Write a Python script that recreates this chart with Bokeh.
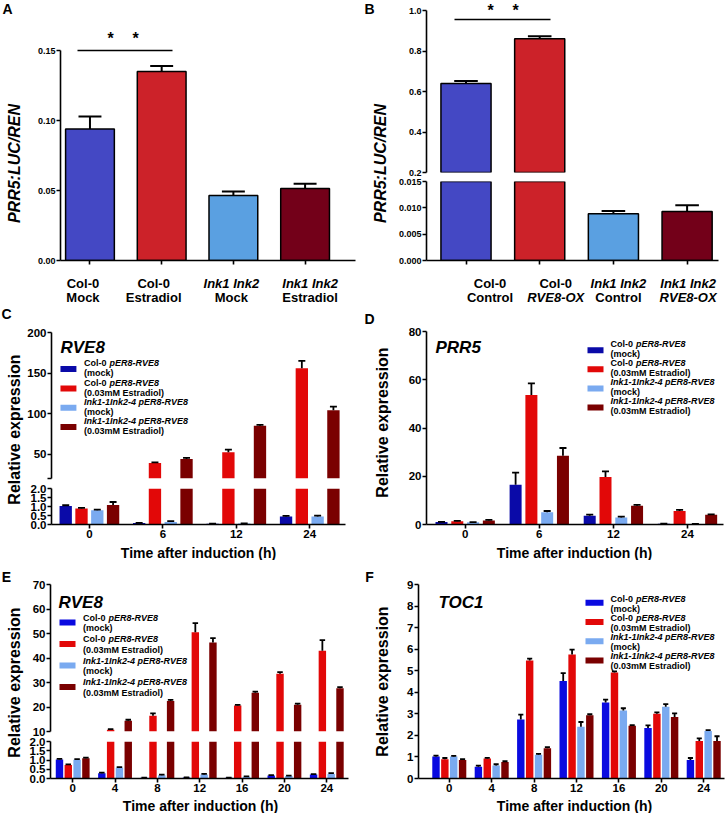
import numpy as np
from bokeh.plotting import figure
from bokeh.models import Range1d, Label, BoxAnnotation, FixedTicker, NumeralTickFormatter, ColumnDataSource
from bokeh.layouts import row, column
from bokeh.embed import file_html
from bokeh.resources import INLINE

# ---------------- data ----------------
A_line1 = ["Col-0", "Col-0", "Ink1 Ink2", "Ink1 Ink2"]
A_line1_italic = [False, False, True, True]
A_line2 = ["Mock", "Estradiol", "Mock", "Estradiol"]
A_line2_italic = [False, False, False, False]
A_mean = [0.094, 0.135, 0.0465, 0.0515]
A_err = [0.0088, 0.004, 0.0027, 0.0033]

B_line1 = ["Col-0", "Col-0", "Ink1 Ink2", "Ink1 Ink2"]
B_line1_italic = [False, False, True, True]
B_line2 = ["Control", "RVE8-OX", "Control", "RVE8-OX"]
B_line2_italic = [False, True, False, True]
B_mean = [0.639, 0.860, 0.0089, 0.0093]
B_err = [0.013, 0.013, 0.0005, 0.0012]

C_times = ["0", "6", "12", "24"]
C_col_mock = [1.03, 0.08, 0.04, 0.45]
C_col_mock_err = [0.04, 0.01, 0.01, 0.03]
C_col_est = [0.89, 39.0, 52.5, 156.0]
C_col_est_err = [0.03, 1.0, 3.0, 9.0]
C_ink_mock = [0.79, 0.14, 0.05, 0.44]
C_ink_mock_err = [0.04, 0.05, 0.01, 0.05]
C_ink_est = [1.08, 44.0, 85.0, 104.0]
C_ink_est_err = [0.17, 1.5, 1.2, 4.5]

D_times = ["0", "6", "12", "24"]
D_col_mock = [1.0, 16.5, 3.6, 0.3]
D_col_mock_err = [0.1, 5.0, 0.5, 0.05]
D_col_est = [1.3, 53.7, 19.7, 5.6]
D_col_est_err = [0.2, 4.8, 2.3, 0.5]
D_ink_mock = [0.9, 5.1, 2.9, 0.2]
D_ink_mock_err = [0.1, 0.5, 0.4, 0.05]
D_ink_est = [1.7, 28.5, 7.8, 4.0]
D_ink_est_err = [0.2, 3.2, 0.3, 0.2]

E_times = ["0", "4", "8", "12", "16", "20", "24"]
E_col_mock = [1.03, 0.28, 0.04, 0.05, 0.04, 0.16, 0.22]
E_col_mock_err = [0.03, 0.04, 0.01, 0.01, 0.01, 0.02, 0.02]
E_col_est = [0.73, 10.7, 16.4, 50.5, 20.6, 33.6, 43.0]
E_col_est_err = [0.03, 0.3, 1.0, 3.7, 0.3, 0.6, 4.3]
E_ink_mock = [1.02, 0.58, 0.18, 0.22, 0.10, 0.13, 0.25]
E_ink_mock_err = [0.03, 0.04, 0.03, 0.03, 0.01, 0.03, 0.04]
E_ink_est = [1.10, 14.4, 22.5, 46.3, 25.8, 20.9, 27.7]
E_ink_est_err = [0.03, 0.4, 0.4, 1.8, 0.5, 0.5, 0.4]

F_times = ["0", "4", "8", "12", "16", "20", "24"]
F_col_mock = [1.02, 0.55, 2.74, 4.52, 3.52, 2.34, 0.86]
F_col_mock_err = [0.04, 0.05, 0.22, 0.37, 0.14, 0.12, 0.09]
F_col_est = [0.89, 0.93, 5.48, 5.75, 4.92, 3.00, 1.74]
F_col_est_err = [0.06, 0.03, 0.08, 0.23, 0.05, 0.07, 0.12]
F_ink_mock = [1.02, 0.60, 1.10, 2.40, 3.15, 3.33, 2.20]
F_ink_mock_err = [0.03, 0.06, 0.04, 0.22, 0.11, 0.12, 0.04]
F_ink_est = [0.86, 0.76, 1.40, 2.94, 2.45, 2.85, 1.74]
F_ink_est_err = [0.04, 0.04, 0.06, 0.04, 0.03, 0.17, 0.22]

LEG_PLAIN = ["Col-0", "Col-0", "", ""]
LEG_ITAL = ["pER8-RVE8", "pER8-RVE8", "Ink1-1Ink2-4 pER8-RVE8", "Ink1-1Ink2-4 pER8-RVE8"]
LEG_LINE2 = ["(mock)", "(0.03mM Estradiol)", "(mock)", "(0.03mM Estradiol)"]

AB_COLORS = ["#4448c4", "#cc2229", "#5aa0e1", "#730019"]
CD_COLORS = ["#0a0aa8", "#e20808", "#7aaaf0", "#7a0000"]
EF_COLORS = ["#0a0ae0", "#e20808", "#7aaaf0", "#7a0000"]

# ---------------- layout helpers ----------------
FONT = "Liberation Sans"


def P(v):
    return int(round(v))


class Pane:
    def __init__(self, canvas, frame=None, xr=(0, 1), yvals=(0, 1), yref=None, xaxis=True, yaxis=True):
        cx0, cy0, cx1, cy1 = canvas
        if frame is None:
            frame = canvas
        fx0, fy0, fx1, fy1 = frame
        self.fx0, self.fx1, self.fy0, self.fy1 = P(fx0), P(fx1), P(fy0), P(fy1)
        if yref is None:
            yref = (fy1, fy0)
        rb, rt = float(yref[0]), float(yref[1])
        vb, vt = yvals

        def val(px):
            return vb + (rb - px) / (rb - rt) * (vt - vb)

        self.xr = xr
        self.yr = (val(self.fy1), val(self.fy0))
        self.bounds = (vb, vt)
        self.f = figure(width=P(cx1) - P(cx0), height=P(cy1) - P(cy0),
                        x_range=Range1d(*xr), y_range=Range1d(*self.yr),
                        output_backend="svg", toolbar_location=None,
                        x_axis_location="below" if xaxis else None,
                        y_axis_location="left" if yaxis else None,
                        min_border_left=P(fx0) - P(cx0), min_border_right=P(cx1) - P(fx1),
                        min_border_top=P(fy0) - P(cy0), min_border_bottom=P(cy1) - P(fy1),
                        outline_line_color=None, border_fill_color="white",
                        background_fill_color="white")
        self.f.xgrid.visible = False
        self.f.ygrid.visible = False

    def dx(self, xref):
        x0, x1 = self.xr
        return x0 + (xref - self.fx0) / (self.fx1 - self.fx0) * (x1 - x0)

    def dy(self, yref):
        y0, y1 = self.yr
        return y0 + (self.fy1 - yref) / (self.fy1 - self.fy0) * (y1 - y0)

    def refx(self, xdata):
        x0, x1 = self.xr
        return self.fx0 + (xdata - x0) / (x1 - x0) * (self.fx1 - self.fx0)

    def text(self, x, y, s, size, style="bold", align="center", baseline="middle", angle=0.0):
        self.f.add_layout(Label(x=x - self.fx0, y=self.fy1 - y,
                                x_units="screen", y_units="screen", text=s,
                                text_font=FONT, text_font_size=f"{size}px",
                                text_font_style=style, text_align=align,
                                text_baseline=baseline, angle=angle, text_color="black"))

    def box(self, x0, x1, yc, h, color):
        self.f.add_layout(BoxAnnotation(left=self.dx(x0), right=self.dx(x1),
                                        bottom=self.dy(yc + h / 2), top=self.dy(yc - h / 2),
                                        fill_color=color, fill_alpha=1.0, line_color=None))


def common(ax, size):
    ax.axis_line_width = 1.6
    ax.axis_line_color = "black"
    ax.major_tick_line_width = 1.6
    ax.major_tick_line_color = "black"
    ax.major_tick_out = 4
    ax.major_tick_in = 0
    ax.minor_tick_line_color = None
    ax.major_label_text_font = FONT
    ax.major_label_text_font_style = "bold"
    ax.major_label_text_font_size = f"{size}px"
    ax.major_label_text_color = "black"
    ax.major_label_standoff = 1


def set_y(p, ticks, fmt, size, overrides=None):
    ax = p.f.yaxis[0]
    ax.ticker = FixedTicker(ticks=ticks)
    ax.formatter = NumeralTickFormatter(format=fmt)
    ax.bounds = p.bounds
    if overrides:
        ax.major_label_overrides = overrides
    common(ax, size)


def set_x(p, labels, size, hide=False):
    ax = p.f.xaxis[0]
    ax.ticker = FixedTicker(ticks=list(range(len(labels))))
    ax.major_label_overrides = {i: s for i, s in enumerate(labels)}
    common(ax, size)
    if hide:
        ax.major_label_text_font_size = "0px"
        ax.major_label_standoff = 0


def simple_bars(p, vals, errs, colors, floor=None, width=0.68, cap=0.32):
    x = np.arange(len(vals), dtype=float)
    v = np.array(vals)
    e = np.array(errs)
    c = np.array(colors)
    if floor is not None:
        m = v > floor
        x, v, e, c = x[m], v[m], e[m], c[m]
    src = ColumnDataSource(dict(x=x, top=v, et=v + e, c0=x - cap / 2, c1=x + cap / 2, col=list(c)))
    p.f.vbar(x="x", top="top", bottom=0, width=width, source=src, fill_color="col",
             line_color="black", line_width=1.5)
    p.f.segment(x0="x", y0="top", x1="x", y1="et", source=src, line_color="black", line_width=2)
    p.f.segment(x0="c0", y0="et", x1="c1", y1="et", source=src, line_color="black", line_width=2)


def group_bars(p, series, errs, colors, step, width, cap, floor=None, lw=1.8):
    n = len(series[0])
    for k, (vals, es, col) in enumerate(zip(series, errs, colors)):
        x = np.arange(n) + (k - 1.5) * step
        v = np.array(vals)
        e = np.array(es)
        if floor is not None:
            m = v > floor
            x, v, e = x[m], v[m], e[m]
        src = ColumnDataSource(dict(x=x, top=v, et=v + e, c0=x - cap / 2, c1=x + cap / 2))
        p.f.vbar(x="x", top="top", bottom=0, width=width, source=src, fill_color=col, line_color=None)
        p.f.segment(x0="x", y0="top", x1="x", y1="et", source=src, line_color="black", line_width=lw)
        p.f.segment(x0="c0", y0="et", x1="c1", y1="et", source=src, line_color="black", line_width=lw)


def legend(p, spec, colors):
    bx0, bx1, tx, y0, pitch, lp, bdy = spec
    for i in range(4):
        y1 = y0 + i * pitch
        p.box(bx0, bx1, y1 + bdy, 6.0, colors[i])
        if LEG_PLAIN[i]:
            p.text(tx, y1, LEG_PLAIN[i], 9, "bold", "left")
            p.text(tx + 25.5, y1, LEG_ITAL[i], 9, "bold italic", "left")
        else:
            p.text(tx, y1, LEG_ITAL[i], 9, "bold italic", "left")
        p.text(tx, y1 + lp, LEG_LINE2[i], 9, "bold", "left")


def text_pane(canvas, frame_x, xr):
    cx0, cy0, cx1, cy1 = canvas
    return Pane(canvas, (frame_x[0], cy0, frame_x[1], cy1), xr, xaxis=False, yaxis=False)


def strip(canvas, letter, lpos, ylabel, ypos, ystyle):
    s = Pane(canvas, xaxis=False, yaxis=False)
    s.text(lpos[0], lpos[1], letter, 14, "bold")
    s.text(ypos[0], ypos[1], ylabel, 16, ystyle, angle=np.pi / 2)
    return s


def cat_labels(src_pane, p, l1, i1, l2, i2, dxs, y1=283, y2=297):
    for i in range(len(l1)):
        xc = src_pane.refx(i) + dxs[i]
        p.text(xc, y1, l1[i], 13, "bold italic" if i1[i] else "bold")
        p.text(xc, y2, l2[i], 13, "bold italic" if i2[i] else "bold")


# ---------------- panel A ----------------
sA = strip((0, 0, 24, 305), "A", (7, 8), "PRR5:LUC/REN", (14, 163), "bold italic")
AX = (-0.411, 3.703)
A = Pane((24, 0, 363, 272), (60, 0, 355, 260), AX, (0, 0.15), yref=(260, 50))
set_y(A, [0, 0.05, 0.10, 0.15], "0.00", 9)
set_x(A, ["", "", "", ""], 9, hide=True)
simple_bars(A, A_mean, A_err, AB_COLORS)
A.f.segment(x0=[A.dx(77)], x1=[A.dx(172)], y0=[0.15], y1=[0.15], line_color="black", line_width=1.3)
A.text(110, 37.5, "*", 16)
A.text(135, 37.5, "*", 16)
Acat = text_pane((24, 272, 363, 305), (60, 355), AX)
cat_labels(A, Acat, A_line1, A_line1_italic, A_line2, A_line2_italic, [-7, -8, -2, 5])

# ---------------- panel B ----------------
sB = strip((363, 0, 392, 305), "B", (369, 8), "PRR5:LUC/REN", (380, 163), "bold italic")
BX = (-0.536, 3.426)
Bu = Pane((392, 0, 726, 176), (426, 0, 718, 172), BX, (0.2, 1.0), yref=(172, 10), xaxis=False)
Bl = Pane((392, 176, 726, 272), (426, 181, 718, 260), BX, (0, 0.015))
set_y(Bu, [0.2, 0.4, 0.6, 0.8, 1.0], "0.0", 9)
set_y(Bl, [0, 0.005, 0.010, 0.015], "0.000", 9)
set_x(Bl, ["", "", "", ""], 9, hide=True)
simple_bars(Bu, B_mean, B_err, AB_COLORS, floor=0.2)
simple_bars(Bl, B_mean, B_err, AB_COLORS)
Bu.f.segment(x0=[Bu.dx(454)], x1=[Bu.dx(550)], y0=[Bu.dy(19)], y1=[Bu.dy(19)],
             line_color="black", line_width=1.3)
Bu.text(490, 9.5, "*", 16)
Bu.text(515, 9.5, "*", 16)
Bcat = text_pane((392, 272, 726, 305), (426, 718), BX)
cat_labels(Bl, Bcat, B_line1, B_line1_italic, B_line2, B_line2_italic, [24, 16, 5, 1])

# ---------------- panel C ----------------
sC = strip((0, 305, 24, 560), "C", (6, 313), "Relative expression", (14, 429), "bold")
CX = (-0.516, 3.487)
Cu = Pane((24, 305, 363, 483), (50, 332, 345, 478), CX, (20, 200), xaxis=False)
Cl = Pane((24, 483, 363, 543), (50, 488, 345, 524), CX, (0, 2.0))
set_y(Cu, [20, 50, 100, 150, 200], "0", 11.5, overrides={20: ""})
set_y(Cl, [0, 0.5, 1.0, 1.5, 2.0], "0.0", 11.5)
set_x(Cl, C_times, 11.5)
C_series = [C_col_mock, C_col_est, C_ink_mock, C_ink_est]
C_errs = [C_col_mock_err, C_col_est_err, C_ink_mock_err, C_ink_est_err]
group_bars(Cu, C_series, C_errs, CD_COLORS, 0.215, 0.168, 0.095, floor=20)
group_bars(Cl, C_series, C_errs, CD_COLORS, 0.215, 0.168, 0.095)
Cu.text(59, 347, "RVE8", 17, "bold italic", "left")
legend(Cu, (59, 75, 82.5, 362.7, 19.3, 10.0, 5.9), CD_COLORS)
Ct = text_pane((24, 543, 363, 560), (50, 345), CX)
Ct.text(197, 552, "Time after induction (h)", 14)

# ---------------- panel D ----------------
sD = strip((363, 305, 392, 560), "D", (369, 318), "Relative expression", (382, 422), "bold")
DX = (-0.522, 3.486)
D = Pane((392, 305, 726, 543), (426, 331, 723, 524), DX, (0, 80))
set_y(D, [0, 20, 40, 60, 80], "0", 11.5)
set_x(D, D_times, 11.5)
group_bars(D, [D_col_mock, D_col_est, D_ink_mock, D_ink_est],
           [D_col_mock_err, D_col_est_err, D_ink_mock_err, D_ink_est_err],
           CD_COLORS, 0.213, 0.162, 0.095)
D.text(435, 347, "PRR5", 17, "bold italic", "left")
legend(D, (587, 603, 610, 343.3, 19.1, 10.0, 6.4), CD_COLORS)
Dt = text_pane((392, 543, 726, 560), (426, 723), DX)
Dt.text(574, 552, "Time after induction (h)", 14)

# ---------------- panel E ----------------
sE = strip((0, 560, 24, 813), "E", (6, 576), "Relative expression", (14, 682), "bold")
EX = (-0.524, 6.513)
Eu = Pane((24, 560, 363, 736), (50, 584, 348, 731), EX, (10, 70), xaxis=False)
El = Pane((24, 736, 363, 797), (50, 741, 348, 778), EX, (0, 2.0))
set_y(Eu, [10, 20, 30, 40, 50, 60, 70], "0", 11.5)
set_y(El, [0, 0.5, 1.0, 1.5, 2.0], "0.0", 11.5)
set_x(El, E_times, 11.5)
E_series = [E_col_mock, E_col_est, E_ink_mock, E_ink_est]
E_errs = [E_col_mock_err, E_col_est_err, E_ink_mock_err, E_ink_est_err]
group_bars(Eu, E_series, E_errs, EF_COLORS, 0.208, 0.175, 0.13, floor=10)
group_bars(El, E_series, E_errs, EF_COLORS, 0.208, 0.175, 0.13)
Eu.text(58, 602, "RVE8", 17, "bold italic", "left")
legend(Eu, (59, 75, 82.5, 617.3, 21.5, 10.6, 4.8), EF_COLORS)
Et = text_pane((24, 797, 363, 813), (50, 348), EX)
Et.text(200, 805, "Time after induction (h)", 14)

# ---------------- panel F ----------------
sF = strip((363, 560, 392, 813), "F", (369, 576), "Relative expression", (382, 681), "bold")
FX = (-0.726, 6.49)
F = Pane((392, 560, 726, 797), (418, 584, 724, 778), FX, (0, 9))
set_y(F, list(range(10)), "0", 11.5)
set_x(F, F_times, 11.5)
group_bars(F, [F_col_mock, F_col_est, F_ink_mock, F_ink_est],
           [F_col_mock_err, F_col_est_err, F_ink_mock_err, F_ink_est_err],
           EF_COLORS, 0.209, 0.175, 0.12)
F.text(438, 602, "TOC1", 17, "bold italic", "left")
legend(F, (585, 603, 610, 598.3, 19.2, 10.0, 4.0), EF_COLORS)
Ft = text_pane((392, 797, 726, 813), (418, 724), FX)
Ft.text(574, 805, "Time after induction (h)", 14)

# ---------------- assemble ----------------
row1 = row(sA.f, column(A.f, Acat.f), sB.f, column(Bu.f, Bl.f, Bcat.f))
row2 = row(sC.f, column(Cu.f, Cl.f, Ct.f), sD.f, column(D.f, Dt.f))
row3 = row(sE.f, column(Eu.f, El.f, Et.f), sF.f, column(F.f, Ft.f))
layout = column(row1, row2, row3)

open("out.html", "w").write(file_html(layout, INLINE, "Figure"))
